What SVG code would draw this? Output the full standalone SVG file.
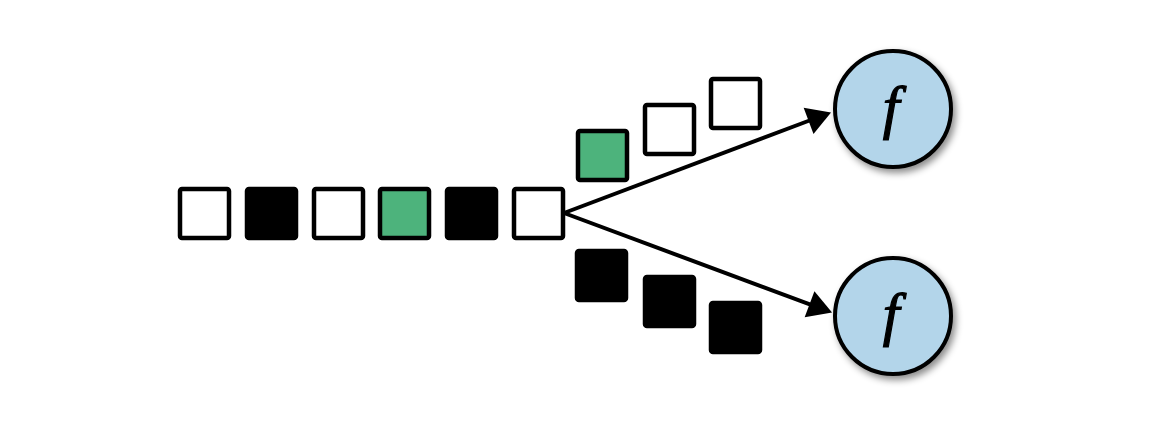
<svg xmlns="http://www.w3.org/2000/svg" width="1150" height="424" viewBox="0 0 1150 424">
  <style>
    .sq { stroke: #000; stroke-width: 4.5; stroke-linejoin: round; }
    .w { fill: #ffffff; }
    .b { fill: #000000; }
    .g { fill: #4db37c; }
    .fn { fill: #b3d5ea; stroke: #000; stroke-width: 4; filter: url(#shadow); }
    .lbl { font-family: "Liberation Serif", "DejaVu Serif", serif; font-style: italic; font-size: 60px; fill: #000; stroke: #000; stroke-width: 1.2; text-anchor: middle; }
    .edge { stroke: #000; stroke-width: 4; fill: none; marker-end: url(#arrow); }
  </style>
  <defs>
    <marker id="arrow" markerUnits="userSpaceOnUse" markerWidth="26" markerHeight="28" refX="1" refY="14" orient="auto" overflow="visible">
      <path d="M0,0 L24,14 L0,28 Z" fill="#000"/>
    </marker>
    <filter id="shadow" x="-20%" y="-20%" width="150%" height="150%">
      <feDropShadow dx="3" dy="4" stdDeviation="3.5" flood-color="#000" flood-opacity="0.45"/>
    </filter>
  </defs>
  <rect width="1150" height="424" fill="#ffffff"/>

  <g id="connectors">
    <path class="edge" d="M564,213 L809.5,120.5"/>
    <path class="edge" d="M564,213 L810.5,304.6"/>
  </g>

  <g id="stream">
    <rect class="sq w" x="180" y="189" width="49" height="49" rx="2"/>
    <rect class="sq b" x="247" y="189" width="49" height="49" rx="2"/>
    <rect class="sq w" x="314" y="189" width="49" height="49" rx="2"/>
    <rect class="sq g" x="380" y="189" width="49" height="49" rx="2"/>
    <rect class="sq b" x="447" y="189" width="49" height="49" rx="2"/>
    <rect class="sq w" x="514" y="189" width="49" height="49" rx="2"/>
  </g>

  <g id="upper-stream">
    <rect class="sq g" x="578" y="131" width="49" height="49" rx="2"/>
    <rect class="sq w" x="645" y="105" width="49" height="49" rx="2"/>
    <rect class="sq w" x="711" y="79" width="49" height="49" rx="2"/>
  </g>

  <g id="lower-stream">
    <rect class="sq b" x="577" y="251" width="49" height="49" rx="2"/>
    <rect class="sq b" x="645" y="277" width="49" height="49" rx="2"/>
    <rect class="sq b" x="711" y="303" width="49" height="49" rx="2"/>
  </g>

  <g id="func-top">
    <circle class="fn" cx="893" cy="109" r="58"/>
    <text class="lbl" x="891" y="127">f</text>
  </g>

  <g id="func-bottom">
    <circle class="fn" cx="893" cy="316" r="58"/>
    <text class="lbl" x="891" y="334">f</text>
  </g>
</svg>
